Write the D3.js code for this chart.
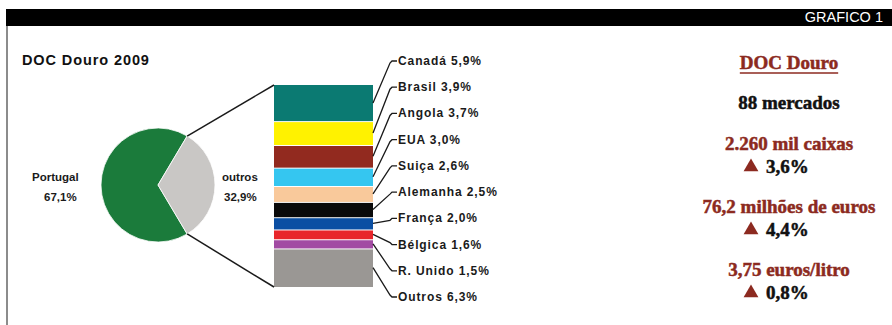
<!DOCTYPE html>
<html>
<head>
<meta charset="utf-8">
<script src="https://cdn.jsdelivr.net/npm/d3@7"></script>
<style>
  html, body { margin: 0; padding: 0; background: #fff; }
  svg { display: block; }
</style>
</head>
<body>
<div class="grafico"></div>
<script>
const mainLabels = ['Portugal', 'outros'];
const mainValues = [67.1, 32.9];
const mainColors = ['#1b7b3b', '#c9c7c5'];

const countries = ['Canadá', 'Brasil', 'Angola', 'EUA', 'Suiça', 'Alemanha', 'França', 'Bélgica', 'R. Unido', 'Outros'];
const shares = [5.9, 3.9, 3.7, 3.0, 2.6, 2.5, 2.0, 1.6, 1.5, 6.3];
const barColors = ['#0b7a72', '#fff200', '#922a1f', '#35c6f0', '#f9c99b', '#0a0a0a', '#0b4fa3', '#e8262b', '#a24ba3', '#9a9794'];

const statTitle = 'DOC Douro';
const statMarkets = '88 mercados';
const statLines = ['2.260 mil caixas', '76,2 milhões de euros', '3,75 euros/litro'];
const statChanges = ['3,6%', '4,4%', '0,8%'];

const fmt = v => d3.format('.1f')(v).replace('.', ',') + '%';

function drawChart() {
  const w = 892;
  const h = 325;
  const red = '#8c2a20';

  const svg = d3.select('.grafico')
    .append('svg')
    .attr('width', w)
    .attr('height', h);

  // frame
  svg.append('rect')
    .attr('x', 6).attr('y', 9)
    .attr('width', w - 6).attr('height', 17)
    .attr('fill', '#000');
  svg.append('line')
    .attr('x1', 7).attr('x2', 7)
    .attr('y1', 26).attr('y2', h)
    .attr('stroke', '#666').attr('stroke-width', 1.5);
  svg.append('text')
    .attr('x', 883).attr('y', 22)
    .attr('text-anchor', 'end')
    .attr('fill', '#fff')
    .style('font', '14.5px "Liberation Sans Narrow", "Liberation Sans", sans-serif')
    .text('GRAFICO 1');

  svg.append('text')
    .attr('x', 22).attr('y', 65)
    .style('font', 'bold 14.5px "Liberation Sans", Arial, sans-serif')
    .style('letter-spacing', '0.9px')
    .attr('fill', '#111')
    .text('DOC Douro 2009');

  // pie
  const cx = 158, cy = 185, r = 57;
  const a = 2 * Math.PI * mainValues[1] / d3.sum(mainValues);
  const start = Math.PI / 2 + a / 2;
  const pie = d3.pie().sort(null).startAngle(start).endAngle(start + 2 * Math.PI);
  const arcs = pie(mainValues);
  const arc = d3.arc().innerRadius(0).outerRadius(r);

  const pieG = svg.append('g').attr('transform', `translate(${cx}, ${cy})`);
  pieG.selectAll('path')
    .data(arcs)
    .enter()
    .append('path')
    .attr('d', arc)
    .attr('fill', (d, i) => mainColors[i])
    .attr('stroke', '#fff')
    .attr('stroke-width', 0.8);

  const labelFont = '600 12px "Liberation Sans", Arial, sans-serif';
  const pieFont = '600 11.5px "Liberation Sans", Arial, sans-serif';
  const pieLabels = [
    { x: 32, dx: 12 },
    { x: 222, dx: 2 }
  ];
  mainLabels.forEach((lab, i) => {
    const t = svg.append('text')
      .attr('x', pieLabels[i].x)
      .attr('y', 181)
      .style('font', pieFont)
      .attr('fill', '#1a1a1a');
    t.append('tspan').attr('x', pieLabels[i].x).text(lab);
    t.append('tspan').attr('x', pieLabels[i].x + pieLabels[i].dx).attr('dy', 20).text(fmt(mainValues[i]));
  });

  // stacked bar
  const barX = 274, barW = 99;
  const y = d3.scaleLinear()
    .domain([0, d3.sum(shares)])
    .range([85, 287]);
  const cum = d3.cumsum(shares);
  const segs = shares.map((v, i) => ({ name: countries[i], value: v, y0: cum[i] - v, y1: cum[i], color: barColors[i] }));

  svg.append('g')
    .selectAll('rect')
    .data(segs)
    .enter()
    .append('rect')
    .attr('x', barX)
    .attr('y', d => y(d.y0) + (d.y0 > 0 ? 1 : 0))
    .attr('width', barW)
    .attr('height', d => y(d.y1) - y(d.y0) - (d.y0 > 0 ? 1 : 0))
    .attr('fill', d => d.color);

  // connectors from pie slice to bar
  const p1 = [cx + r * Math.sin(start - a), cy - r * Math.cos(start - a)];
  const p2 = [cx + r * Math.sin(start), cy - r * Math.cos(start)];
  [[p1, [barX, y(0)]], [p2, [barX, y(d3.sum(shares))]]].forEach(([s, e]) => {
    svg.append('line')
      .attr('x1', s[0]).attr('y1', s[1])
      .attr('x2', e[0]).attr('y2', e[1])
      .attr('stroke', '#1a1a1a')
      .attr('stroke-width', 1.5);
  });

  // labels with leaders
  const ly = d3.scalePoint().domain(countries).range([61, 297]);
  const lx = 398;
  const leader = d3.line().curve(d3.curveLinear);
  const lab = svg.append('g');
  segs.forEach(d => {
    const mid = y((d.y0 + d.y1) / 2);
    const yy = ly(d.name);
    lab.append('path')
      .attr('d', leader([[barX + barW, mid], [lx - 8, yy + (mid > yy ? 2 : mid < yy ? -2 : 0)], [lx - 6, yy], [lx - 1, yy]]))
      .attr('fill', 'none')
      .attr('stroke', '#1a1a1a')
      .attr('stroke-width', 1.3);
    lab.append('text')
      .attr('x', lx)
      .attr('y', yy + 4)
      .style('font', labelFont)
      .style('letter-spacing', '0.9px')
      .attr('fill', '#1a1a1a')
      .text(`${d.name} ${fmt(d.value)}`);
  });

  // right summary
  const sx = 789;
  const serif = 'bold 19px "Liberation Serif", "Times New Roman", serif';
  const heavy = sel => sel.style('font', serif)
    .attr('stroke-width', 0.5)
    .attr('stroke', function () { return d3.select(this).attr('fill'); });

  const title = svg.append('text')
    .attr('x', sx).attr('y', 69)
    .attr('text-anchor', 'middle')
    .attr('fill', red)
    .text(statTitle)
    .call(heavy);
  const bb = title.node().getBBox();
  svg.append('line')
    .attr('x1', bb.x).attr('x2', bb.x + bb.width)
    .attr('y1', 73).attr('y2', 73)
    .attr('stroke', red).attr('stroke-width', 1.6);

  svg.append('text')
    .attr('x', sx).attr('y', 109)
    .attr('text-anchor', 'middle')
    .attr('fill', '#111')
    .text(statMarkets)
    .call(heavy);

  statLines.forEach((s, i) => {
    const by = 150 + i * 63;
    svg.append('text')
      .attr('x', sx).attr('y', by)
      .attr('text-anchor', 'middle')
      .attr('fill', red)
      .text(s)
      .call(heavy);
    const cy2 = by + 16;
    svg.append('path')
      .attr('d', d3.symbol(d3.symbolTriangle, 95)())
      .attr('transform', `translate(751, ${cy2 + 1})`)
      .attr('fill', red);
    svg.append('text')
      .attr('x', 766).attr('y', cy2 + 7)
      .attr('fill', '#111')
      .text(statChanges[i])
      .call(heavy);
  });
}

drawChart();
</script>
</body>
</html>
